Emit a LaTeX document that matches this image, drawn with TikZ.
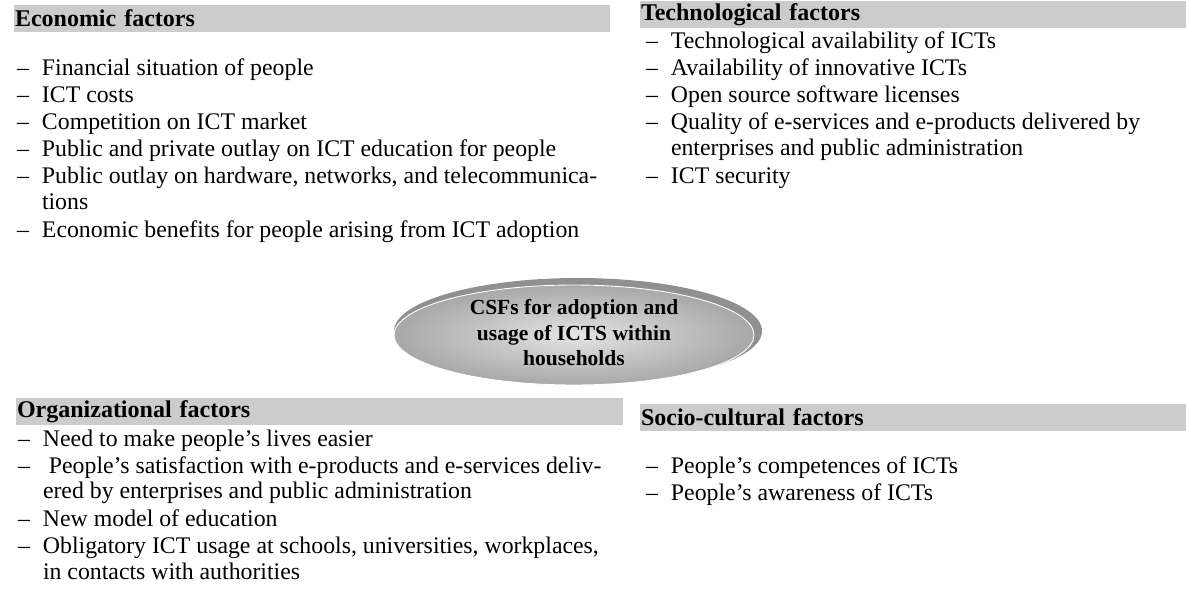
\documentclass[tikz,border=0pt]{standalone}
\usepackage{fontspec}
\setmainfont{Liberation Serif}
\usetikzlibrary{shapes.geometric}
\definecolor{barfill}{HTML}{CCCCCC}
\definecolor{rimgray}{HTML}{909090}
\definecolor{coremid}{HTML}{E4E4E4}
\definecolor{coreedge}{HTML}{A8A8A8}
\newcommand\dsh{\makebox[25pt][l]{–}}
\begin{document}
\begin{tikzpicture}[x=1pt,y=-1pt,
  every node/.style={font=\fontsize{23.8}{27}\selectfont, inner sep=0pt, outer sep=0pt},
  headbar/.style={fill=barfill, anchor=north west, minimum height=27pt,
    inner xsep=1pt, align=left, font=\fontsize{24}{27}\selectfont\bfseries},
  itm/.style={anchor=base west},
  rim/.style={ellipse, fill=rimgray, minimum width=368pt, minimum height=106pt},
  core/.style={ellipse, draw=white, line width=0.9pt, shading=radial,
    inner color=coremid, outer color=coreedge,
    minimum width=360pt, minimum height=100pt},
  coretext/.style={align=center, font=\fontsize{21.5}{25.5}\selectfont\bfseries}
]
\useasboundingbox (0,0) rectangle (1186,608);

% Economic factors
\node[headbar, text width=594pt] (eh) at (14,5) {Economic factors};
\node[itm] (e1) at (17,75)  {\dsh Financial situation of people};
\node[itm] (e2) at (17,102) {\dsh ICT costs};
\node[itm] (e3) at (17,129) {\dsh Competition on ICT market};
\node[itm] (e4) at (17,156) {\dsh Public and private outlay on ICT education for people};
\node[itm] (e5) at (17,183) {\dsh Public outlay on hardware, networks, and telecommunica-};
\node[itm] (e5b) at (42,209) {tions};
\node[itm] (e6) at (17,237) {\dsh Economic benefits for people arising from ICT adoption};

% Technological factors
\node[headbar, text width=544pt] (th) at (640,1) {Technological factors};
\node[itm] (t1) at (646,48)  {\dsh Technological availability of ICTs};
\node[itm] (t2) at (646,75)  {\dsh Availability of innovative ICTs};
\node[itm] (t3) at (646,102) {\dsh Open source software licenses};
\node[itm] (t4) at (646,129) {\dsh Quality of e-services and e-products delivered by};
\node[itm] (t4b) at (671,155) {enterprises and public administration};
\node[itm] (t5) at (646,183) {\dsh ICT security};

% Central ellipse with its darker rim behind
\node[rim] (shade) at (578,331) {};
\node[core] (csf) at (574,335) {};
\node[coretext] (csftxt) at ([yshift=2pt]csf.center)
  {CSFs for adoption and\\usage of ICTS within\\households};

% Organizational factors
\node[headbar, text width=605pt] (oh) at (16,398) {Organizational factors};
\node[itm] (o1) at (18,446) {\dsh Need to make people’s lives easier};
\node[itm] (o2) at (18,473) {\dsh\ People’s satisfaction with e-products and e-services deliv-};
\node[itm] (o2b) at (43,498) {ered by enterprises and public administration};
\node[itm] (o3) at (18,526) {\dsh New model of education};
\node[itm] (o4) at (18,553) {\dsh Obligatory ICT usage at schools, universities, workplaces,};
\node[itm] (o4b) at (43,579) {in contacts with authorities};

% Socio-cultural factors
\node[headbar, text width=544pt] (sh) at (640,404) {Socio-cultural factors};
\node[itm] (s1) at (646,473) {\dsh People’s competences of ICTs};
\node[itm] (s2) at (646,500) {\dsh People’s awareness of ICTs};
\end{tikzpicture}
\end{document}
